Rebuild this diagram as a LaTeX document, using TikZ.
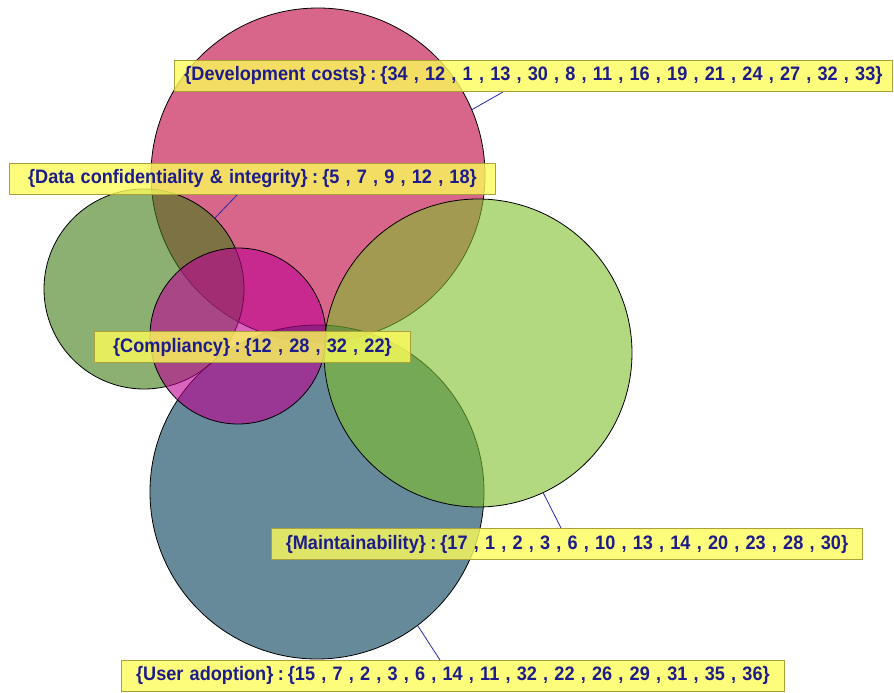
\documentclass[tikz,border=0pt]{standalone}
\usepackage{fontspec}
\newfontfamily\lblfont[FakeStretch=0.93]{Liberation Sans}
\definecolor{devcol}{RGB}{190,0,60}
\definecolor{datcol}{RGB}{63,123,20}
\definecolor{comcol}{RGB}{190,0,147}
\definecolor{maicol}{RGB}{127,190,43}
\definecolor{usecol}{RGB}{0,60,85}
\definecolor{boxfill}{RGB}{252,252,90}
\definecolor{boxline}{RGB}{170,160,60}
\definecolor{lbltext}{RGB}{28,28,140}
\definecolor{linkcol}{RGB}{40,40,170}
% label font, with wider word spaces
\newcommand{\lblsetup}{\lblfont\bfseries\fontsize{19.5}{21}\selectfont\spaceskip 6.2pt\relax}
% separator between a set name and its members
\newcommand{\setsep}{\kern4.5pt:\kern4pt}
\tikzset{
  setcircle/.style={circle, draw=black, line width=0.8pt, inner sep=0pt, outer sep=0pt,
    fill=#1, fill opacity=0.6, minimum size=2*\r},
  setlabel/.style={rectangle, draw=boxline, line width=0.9pt, fill=boxfill, fill opacity=0.8,
    text opacity=1, text=lbltext, inner xsep=0pt, inner ysep=0pt, minimum height=31pt,
    font=\lblsetup, anchor=west},
  link/.style={draw=linkcol, line width=0.8pt}
}
\begin{document}
\begin{tikzpicture}[x=1pt, y=-1pt]
\useasboundingbox (0,0) rectangle (894,693);
% the five sets, lower ones first
\def\r{167pt}
\node[setcircle=devcol] (dev) at (318,175) {};
\def\r{167pt}
\node[setcircle=usecol] (use) at (317,492) {};
\def\r{100pt}
\node[setcircle=datcol] (dat) at (144,289) {};
\def\r{154pt}
\node[setcircle=maicol] (mai) at (478,353) {};
\def\r{88pt}
\node[setcircle=comcol] (com) at (238,336) {};
% leader line end points on the label boxes
\coordinate (devtip) at (503,92);
\coordinate (dattip) at (237,195);
\coordinate (maitip) at (561,528);
\coordinate (usetip) at (440,660);
\draw[link] (dev.23.5) -- (devtip);
\draw[link] (dat.45.8) -- (dattip);
\draw[link] (mai.-65.1) -- (maitip);
\draw[link] (use.-53.3) -- (usetip);
% set labels
\node[setlabel, minimum width=718pt] (devlbl) at (174,75.5)
  {\{Development costs\}\setsep\{34 , 12 , 1 , 13 , 30 , 8 , 11 , 16 , 19 , 21 , 24 , 27 , 32 , 33\}};
\node[setlabel, minimum width=486pt] (datlbl) at (9,178.5)
  {\{Data confidentiality \& integrity\}\setsep\{5 , 7 , 9 , 12 , 18\}};
\node[setlabel, minimum width=316pt] (comlbl) at (94,347)
  {\{Compliancy\}\setsep\{12 , 28 , 32 , 22\}};
\node[setlabel, minimum width=591pt] (mailbl) at (271,544)
  {\{Maintainability\}\setsep\{17 , 1 , 2 , 3 , 6 , 10 , 13 , 14 , 20 , 23 , 28 , 30\}};
\node[setlabel, minimum width=663pt] (uselbl) at (121,675.5)
  {\{User adoption\}\setsep\{15 , 7 , 2 , 3 , 6 , 14 , 11 , 32 , 22 , 26 , 29 , 31 , 35 , 36\}};
\end{tikzpicture}
\end{document}
